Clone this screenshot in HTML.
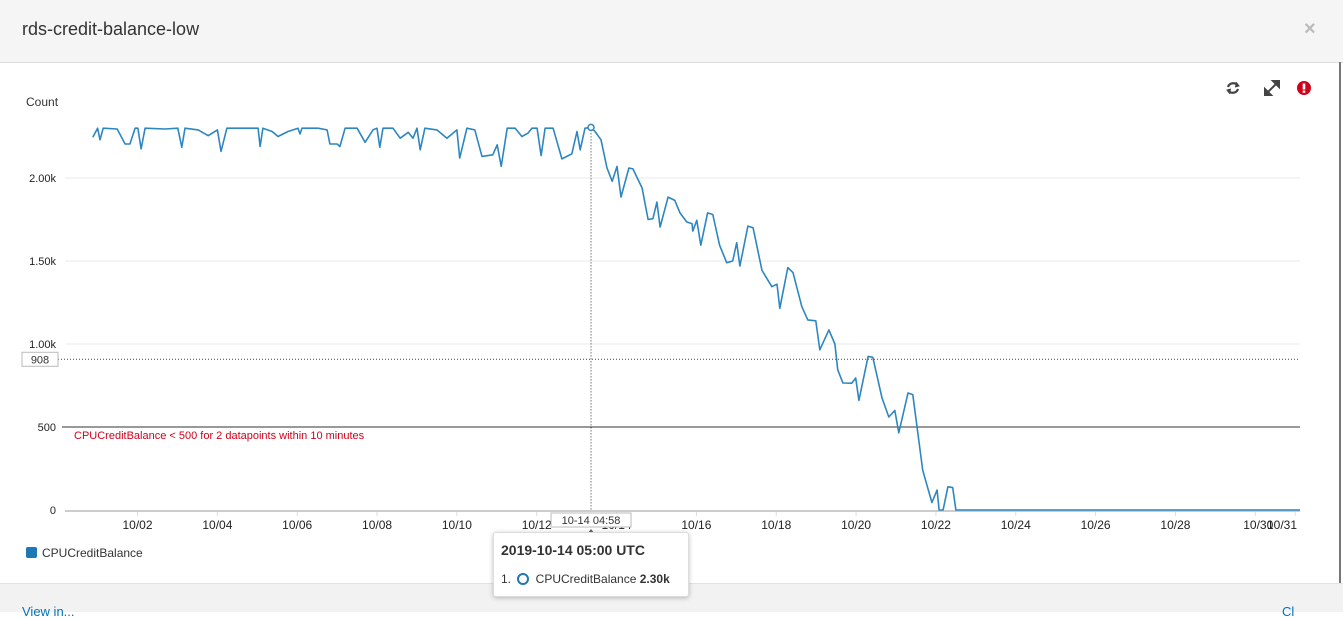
<!DOCTYPE html>
<html><head><meta charset="utf-8">
<style>
html,body{margin:0;padding:0;width:1343px;height:611px;overflow:hidden;background:#fff;font-family:"Liberation Sans",Arial,sans-serif;}
.hdr{position:absolute;left:0;top:0;width:1343px;height:62px;background:#f5f5f5;border-bottom:1px solid #ddd;}
.title{position:absolute;left:22px;top:19px;font-size:18px;color:#333;}
.close{position:absolute;left:1304px;top:18px;font-size:20px;color:#bbb;font-weight:bold;}
.foot{position:absolute;left:0;top:583px;width:1343px;height:28px;background:#f2f2f2;border-top:1px solid #e2e2e2;}
.tip{position:absolute;left:493px;top:532px;width:194px;height:63px;background:#fff;border:1px solid #ddd;border-radius:3px;box-shadow:0 1px 5px rgba(0,0,0,.25);}
</style></head><body>
<div class="hdr">
  <div class="title">rds-credit-balance-low</div>
  <div class="close">×</div>
</div>
<div class="foot">
  <div style="position:absolute;left:22px;top:20px;font-size:13px;color:#0073bb">View in...</div>
  <div style="position:absolute;left:1282px;top:20px;font-size:13px;color:#0073bb">Cl</div>
</div>
<div style="position:absolute;left:1339px;top:62px;width:2px;height:521px;background:#777"></div>

<svg id="chart" width="1343" height="611" style="position:absolute;left:0;top:0">
  <text x="26" y="106" font-size="12" fill="#333">Count</text>
  <g id="grid"></g><g id="yt"></g><g id="xt"></g><g id="series"></g>
  <g transform="translate(1233,88)" fill="none" stroke="#444" stroke-width="2.2">
    <path d="M-5,-1 A5.5,5.5 0 0 1 5,-2"/><path d="M5,1 A5.5,5.5 0 0 1 -5,2"/>
    <path d="M3,-6 L6,-2 L2,-1" fill="#444" stroke-width="1"/><path d="M-3,6 L-6,2 L-2,1" fill="#444" stroke-width="1"/>
  </g>
  <g transform="translate(1272,88)" stroke="#444" stroke-width="2" fill="#444">
    <line x1="-5" y1="5" x2="5" y2="-5"/><path d="M1,-7 L7,-7 L7,-1Z"/><path d="M-1,7 L-7,7 L-7,1Z"/>
  </g>
  <g transform="translate(1304,88)">
    <circle r="7" fill="#d0021b"/><rect x="-1.3" y="-4.5" width="2.6" height="6" fill="#fff"/><rect x="-1.3" y="2.6" width="2.6" height="2.2" fill="#fff"/>
  </g>
  <rect x="26" y="547" width="11" height="11" rx="2" fill="#1f77b4"/>
  <text x="42" y="557" font-size="12" fill="#333">CPUCreditBalance</text>
</svg>

<div class="tip">
  <div style="position:absolute;left:7px;top:9px;font-size:14px;font-weight:bold;color:#333">2019-10-14 05:00 UTC</div>
  <div style="position:absolute;left:7px;top:39px;font-size:12px;color:#333;white-space:nowrap">1. <span style="display:inline-block;width:8px;height:8px;border:2px solid #1f77b4;border-radius:50%;vertical-align:-2px;margin:0 3px"></span> CPUCreditBalance <b>2.30k</b></div>
</div>

<script>
const days=[-0.12,0,0.06,0.14,0.49,0.69,0.81,0.94,1.01,1.09,1.19,1.69,2.01,2.11,2.19,2.52,2.77,3.00,3.09,3.24,4.02,4.07,4.14,4.37,4.52,4.77,5.02,5.07,5.12,5.52,5.75,5.82,6.00,6.07,6.20,6.50,6.70,6.90,7.00,7.07,7.15,7.40,7.58,7.78,7.90,8.00,8.08,8.20,8.50,8.75,9.00,9.07,9.25,9.45,9.63,9.90,10.01,10.11,10.26,10.46,10.63,10.78,10.88,11.01,11.11,11.21,11.41,11.63,11.88,12.01,12.09,12.21,12.36,12.46,12.61,12.76,12.89,13.01,13.11,13.31,13.41,13.64,13.79,13.91,14.01,14.09,14.29,14.46,14.59,14.76,14.89,14.91,15.01,15.11,15.28,15.41,15.58,15.76,15.91,16.01,16.09,16.29,16.42,16.64,16.89,17.02,17.09,17.29,17.42,17.64,17.79,17.99,18.09,18.32,18.47,18.54,18.67,18.89,18.99,19.07,19.30,19.42,19.65,19.82,19.97,20.07,20.30,20.42,20.67,20.90,21.03,21.08,21.18,21.30,21.42,21.50,30.12];
const values=[2245,2300,2230,2300,2295,2205,2205,2300,2300,2175,2300,2295,2300,2185,2300,2290,2255,2290,2160,2300,2300,2190,2300,2280,2250,2280,2300,2265,2300,2300,2290,2205,2205,2190,2300,2300,2215,2290,2300,2185,2300,2300,2240,2275,2240,2300,2170,2300,2290,2240,2290,2120,2300,2290,2130,2140,2200,2070,2300,2300,2250,2270,2300,2300,2135,2300,2300,2115,2145,2280,2170,2300,2305,2280,2230,2060,1980,2070,1885,2060,2055,1940,1750,1755,1855,1705,1885,1865,1790,1735,1725,1680,1745,1595,1790,1780,1595,1490,1500,1610,1470,1710,1700,1445,1345,1360,1215,1460,1430,1225,1145,1140,965,1085,1000,845,765,764,795,660,925,920,675,560,600,465,705,695,240,45,120,0,0,140,135,0,0];
const yTicks=[0,500,1000,1500,2000];
const yTickLabels=["0","500","1.00k","1.50k","2.00k"];
const xTicks=[1,3,5,7,9,11,13,15,17,19,21,23,25,27,29,30];
const xTickLabels=["10/02","10/04","10/06","10/08","10/10","10/12","10/14","10/16","10/18","10/20","10/22","10/24","10/26","10/28","10/30","10/31"];
const threshold=[500];
const annotation=[908];
const cursorDay=[12.36];
const cursorValue=[2305];

const NS="http://www.w3.org/2000/svg";
const X0=65,X1=1300;
const xs=d=>97.6+d*39.92;
const ys=v=>510-v*0.166;
function mk(tag,attrs,parent,text){const e=document.createElementNS(NS,tag);for(const k in attrs)e.setAttribute(k,attrs[k]);if(text!==undefined)e.textContent=text;parent.appendChild(e);return e;}
const grid=document.getElementById('grid'),yt=document.getElementById('yt'),xt=document.getElementById('xt'),ser=document.getElementById('series');

yTicks.forEach((v,i)=>{
  if(v!==0&&v!==threshold[0]){const g=mk('line',{x1:X0,x2:X1,y1:ys(v),y2:ys(v),stroke:'#e8e8e8','stroke-width':1},grid);
  
  }
  const t=mk('text',{x:56,y:ys(v)+4,'font-size':11,'text-anchor':'end',fill:'#222'},yt,yTickLabels[i]);
  
  
});
const base=mk('line',{x1:X0,x2:X1,y1:ys(0)+1,y2:ys(0)+1,stroke:'#ccc','stroke-width':2},grid);


xTicks.forEach((d,i)=>{
  const tk=mk('line',{x1:xs(d),x2:xs(d),y1:ys(0)+2,y2:ys(0)+6,stroke:'#ddd'},xt);
  
  
  const last=i===xTicks.length-1;
  const pen=i===xTicks.length-2;
  const t=mk('text',{x:last?X1-3:(pen?xs(d)+3:xs(d)),y:529,'font-size':12,'text-anchor':last?'end':'middle',fill:'#222'},xt,xTickLabels[i]);
  
  
});
const th=mk('line',{x1:62,x2:X1,y1:ys(threshold[0]),y2:ys(threshold[0]),stroke:'#333','stroke-width':1},grid);


const tl=mk('text',{x:74,y:ys(threshold[0])+12,'font-size':11,fill:'#d0021b'},grid,'CPUCreditBalance < 500 for 2 datapoints within 10 minutes');


const an=mk('line',{x1:58,x2:X1,y1:ys(annotation[0]),y2:ys(annotation[0]),stroke:'#444','stroke-width':1,'stroke-dasharray':'1,2'},grid);


const ab=mk('rect',{x:22,y:ys(annotation[0])-7,width:36,height:14,fill:'#fff',stroke:'#bbb'},grid);


const at=mk('text',{x:40,y:ys(annotation[0])+4,'font-size':11,'text-anchor':'middle',fill:'#333'},grid,String(annotation[0]));


const pts=days.map((d,i)=>xs(d).toFixed(1)+','+ys(values[i]).toFixed(1)).join(' ');
const pl=mk('polyline',{points:pts,fill:'none',stroke:'#2e86c1','stroke-width':1.6,'stroke-linejoin':'round'},ser);


const cx=xs(cursorDay[0]);
const vl=mk('line',{x1:cx,x2:cx,y1:ys(cursorValue[0]),y2:ys(0),stroke:'#333','stroke-width':1,'stroke-dasharray':'1,2'},ser);


const pt=mk('circle',{cx:cx,cy:ys(cursorValue[0]),r:3,fill:'#fff',stroke:'#2e86c1','stroke-width':1.5},ser);


const xb=mk('rect',{x:cx-40,y:513,width:80,height:14,fill:'#fff',stroke:'#bbb'},ser);


const xl=mk('text',{x:cx,y:524,'font-size':11,'text-anchor':'middle',fill:'#333'},ser,'10-14 04:58');


const tri=mk('path',{d:`M${cx-4},534 L${cx+4},534 L${cx},529 Z`,fill:'#666'},ser);


</script>
</body></html>
